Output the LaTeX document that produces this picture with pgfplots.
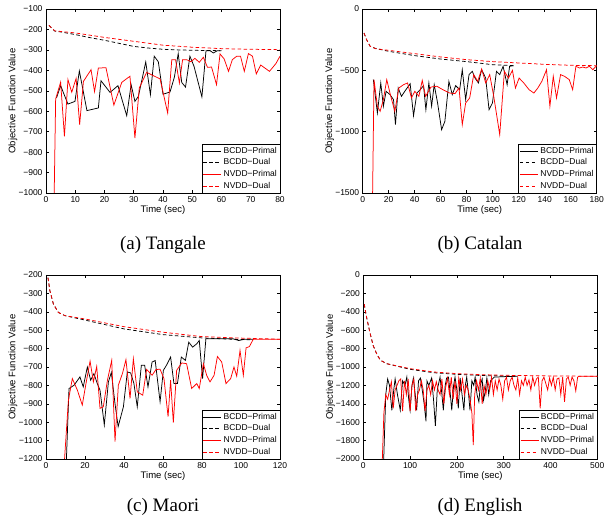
\documentclass[border=0pt]{standalone}
\usepackage{fontspec}
\setmainfont{Liberation Serif}
\newfontfamily\helv{Liberation Sans}
\usepackage{pgfplots}
\pgfplotsset{compat=1.18}

\newcommand\mtick[1]{\pgfmathparse{abs(#1)}\ifdim#1pt<0pt −\fi\pgfmathprintnumber[fixed,precision=0,1000 sep={}]{\pgfmathresult}}

\tikzset{
  bp/.style={draw=black, solid, line width=0.75pt},
  bd/.style={draw=black, dash pattern=on 3.5pt off 2.5pt, line width=0.75pt},
  rp/.style={draw=red, solid, line width=0.75pt},
  rd/.style={draw=red, dash pattern=on 3.5pt off 2.5pt, line width=0.75pt},
}

\pgfplotsset{
  panel/.style={
    scale only axis, width=234pt, height=184pt,
    anchor=south west,
    axis line style={line width=0.8pt},
    tick align=inside, major tick length=3pt,
    tick style={black, line width=0.5pt},
    xtick pos=both, ytick pos=both,
    every tick label/.append style={font=\helv\fontsize{8.5}{10}\selectfont},
    xlabel={Time (sec)}, ylabel={Objective Function Value},
    every axis y label/.style={at={(axis description cs:-0.141,0.5)}, rotate=90, anchor=center,
                               font=\helv\fontsize{9.5}{11}\selectfont},
    every axis x label/.style={at={(axis description cs:0.5,-0.093)}, anchor=center,
                               font=\helv\fontsize{9.5}{11}\selectfont},
    yticklabel={\mtick{\tick}},
    /pgf/number format/assume math mode=true,
    /pgf/number format/1000 sep={},
    scaled ticks=false,
    legend style={at={(1,0)}, anchor=south east,
                  font=\helv\fontsize{8.5}{10}\selectfont,
                  inner sep=1pt, row sep=0pt},
    legend cell align=left,
    legend image code/.code={\draw[#1] (0pt,0pt) -- (18pt,0pt);},
  },
}

\begin{document}
\begin{tikzpicture}
\path[use as bounding box] (0,0) rectangle (606pt,517pt);

% (a) Tangale
\begin{axis}[panel, at={(46pt,324pt)},
  xmin=0, xmax=80, ymin=-1000, ymax=-100,
  xtick={0,10,...,80}, ytick={-1000,-900,...,-100}]
  \addplot[bp] coordinates {(3.6,-535) (5.0,-475) (7.5,-565) (9.9,-552) (11.4,-403) (14.0,-597) (17.9,-584) (18.8,-451) (21.9,-508) (24.6,-475) (27.6,-622) (29.1,-470) (30.4,-552) (31.6,-527) (34.1,-359) (35.7,-519) (37.0,-331) (38.4,-358) (40.0,-517) (42.4,-506) (43.9,-433) (45.2,-318) (46.4,-459) (47.7,-482) (49.2,-331) (50.6,-380) (53.3,-530) (54.7,-304) (56.1,-304) (57.2,-315) (58.6,-304) (59.5,-304)};
  \addplot[bd] coordinates {(1,-180) (3,-208) (5,-212) (10,-225) (15,-240) (20,-253) (25,-268) (30,-283) (35,-291) (40,-297) (45,-300) (50,-302) (55,-303) (60,-304)};
  \addplot[rp] coordinates {(2.7,-1100) (3.3,-540) (5.0,-458) (6.3,-723) (7.5,-445) (8.8,-507) (10.3,-439) (11.5,-666) (12.8,-454) (15.4,-397) (16.6,-504) (17.9,-389) (20.5,-387) (23.2,-570) (25.9,-459) (28.7,-429) (30.4,-731) (31.9,-486) (34.4,-410) (39.0,-442) (41.6,-609) (43.0,-348) (44.3,-348) (45.6,-462) (46.7,-348) (48.1,-348) (49.6,-358) (50.9,-341) (52.4,-361) (53.8,-336) (55.2,-385) (56.6,-384) (58.3,-470) (59.5,-320) (60.9,-344) (62.4,-405) (63.7,-348) (65.2,-331) (66.5,-331) (67.8,-405) (69.2,-318) (70.6,-331) (71.9,-418) (73.4,-374) (76.4,-405) (78.6,-367) (80,-331)};
  \addplot[rd] coordinates {(1,-180) (3,-207) (10,-217) (20,-239) (30,-258) (40,-277) (50,-287) (60,-294) (70,-297) (80,-299)};
  \legend{BCDD−Primal, BCDD−Dual, NVDD−Primal, NVDD−Dual}
\end{axis}

% (b) Catalan
\begin{axis}[panel, at={(362.7pt,324pt)},
  xmin=0, xmax=180, ymin=-1500, ymax=0,
  xtick={0,20,...,180}, ytick={-1500,-1000,-500,0}]
  \addplot[bp] coordinates {(8.2,-576) (11.3,-848) (13.9,-603) (15.9,-793) (18,-671) (21,-698) (23.7,-739) (25.2,-943) (27.3,-644) (29.8,-712) (32.9,-663) (36.5,-609) (39.1,-870) (41.7,-685) (44.2,-658) (46.8,-625) (48.6,-821) (50.9,-603) (53,-793) (55,-617) (57.6,-766) (60.7,-984) (63.2,-916) (66.3,-590) (68.9,-698) (71.5,-625) (74.6,-658) (76.6,-495) (79.2,-739) (81.8,-535) (84.3,-508) (86.4,-563) (89.0,-603) (91.5,-495) (94.6,-563) (97.2,-821) (99.8,-766) (102.9,-508) (105.4,-535) (108,-467) (111.1,-617) (113,-467) (116,-462)};
  \addplot[bd] coordinates {(1,-196) (3,-250) (5.7,-304) (10,-322) (20,-345) (40,-380) (60,-408) (80,-429) (100,-454) (116,-462)};
  \addplot[rp] coordinates {(7.5,-1600) (8.7,-576) (11.3,-793) (13.4,-834) (15.9,-739) (18.5,-576) (21.6,-712) (24.7,-834) (27.8,-644) (31.4,-617) (34.5,-603) (37.5,-725) (40.1,-671) (43.2,-712) (45.8,-582) (48.4,-712) (52.5,-636) (57.1,-630) (61.7,-658) (66.9,-685) (71.0,-690) (74.1,-644) (76.6,-943) (79.2,-766) (82.3,-725) (85.4,-535) (88.5,-590) (91.5,-489) (94.6,-603) (97.7,-535) (100.8,-712) (105.4,-1024) (109,-508) (112.1,-563) (115.2,-500) (117.5,-644) (120.3,-563) (123.9,-603) (128,-658) (131.7,-685) (134.7,-644) (137.8,-590) (141.4,-495) (144,-793) (146.6,-549) (149.1,-725) (152.2,-535) (155.3,-549) (158.9,-576) (161.5,-658) (164,-467) (166.7,-481) (169.3,-473) (171.8,-481) (174.4,-467) (177,-495) (180,-462)};
  \addplot[rd] coordinates {(1,-196) (3,-250) (5.7,-304) (10,-324) (20,-337) (40,-364) (60,-391) (80,-413) (100,-429) (120,-440) (140,-451) (160,-459) (180,-462)};
  \legend{BCDD−Primal, BCDD−Dual, NVDD−Primal, NVDD−Dual}
\end{axis}

% (c) Maori
\begin{axis}[panel, at={(46pt,58pt)},
  xmin=0, xmax=120, ymin=-1200, ymax=-200,
  xtick={0,20,...,120}, ytick={-1200,-1100,...,-200}]
  \addplot[bp] coordinates {(10.3,-1250) (11.8,-817) (14.4,-799) (17.4,-754) (19.1,-808) (21.2,-700) (22.9,-772) (24.6,-736) (26.3,-790) (27.7,-826) (29.9,-1015) (32,-781) (33.5,-730) (35.4,-900) (37,-1024) (39.7,-916) (41.7,-727) (43.4,-732) (45.1,-790) (46.8,-916) (48.9,-691) (50.6,-691) (52.3,-808) (54.4,-673) (56,-665) (58.5,-889) (60.2,-718) (61.8,-690) (63.9,-646) (65.6,-790) (67.4,-790) (69.4,-646) (71.5,-664) (73.2,-565) (75.2,-592) (77.3,-574) (78.6,-556) (80.3,-763) (82,-547) (96,-547) (98.8,-556) (102,-549) (106.3,-549)};
  \addplot[bd] coordinates {(1,-214) (2,-286) (3.8,-358) (6.3,-403) (9.7,-421) (20,-445) (40,-493) (60,-524) (80,-542) (100,-551) (106,-552)};
  \addplot[rp] coordinates {(9.2,-1250) (11.5,-880) (13.5,-763) (16.1,-826) (18.6,-907) (20.5,-790) (22.6,-668) (24.3,-781) (26,-697) (27.7,-925) (29.4,-916) (31.5,-772) (33.7,-664) (35.4,-1105) (37.1,-799) (39.3,-732) (41,-660) (43.1,-871) (44.8,-655) (46.8,-835) (49.6,-853) (51.6,-713) (54.4,-745) (56.4,-714) (58.5,-712) (60.5,-763) (62.6,-970) (63.9,-772) (65.3,-1002) (67,-718) (69.6,-678) (72.1,-682) (74.7,-817) (77.3,-790) (78.6,-817) (80.7,-682) (82.4,-745) (84.1,-781) (86.2,-745) (87.9,-643) (90.1,-673) (92.3,-790) (94.7,-763) (96.4,-700) (97.8,-750) (99.5,-610) (101.2,-745) (102.6,-596) (104.3,-589) (106.3,-549) (120,-549)};
  \addplot[rd] coordinates {(1,-214) (2,-286) (3.8,-358) (6.3,-403) (9.7,-421) (20,-439) (40,-481) (60,-511) (80,-535) (100,-543) (120,-549)};
  \legend{BCDD−Primal, BCDD−Dual, NVDD−Primal, NVDD−Dual}
\end{axis}

% (d) English
\begin{axis}[panel, at={(363.3pt,58pt)},
  xmin=0, xmax=500, ymin=-2000, ymax=0,
  xtick={0,100,...,500}, ytick={-2000,-1800,...,0}]
  \addplot[bp] coordinates {(43,-2100) (48,-1300) (52,-1130) (56,-1200) (61,-1470) (65,-1250) (68,-1130) (73,-1300) (79,-1470) (84,-1150) (89,-1200) (93,-1110) (97,-1350) (100,-1470) (104,-1200) (107,-1120) (111,-1300) (114,-1470) (118,-1150) (122,-1120) (126,-1250) (130,-1400) (134,-1590) (136,-1150) (140,-1200) (146,-1120) (150,-1350) (154,-1640) (158,-1250) (164,-1110) (168,-1300) (171,-1470) (175,-1200) (178,-1120) (182,-1110) (186,-1300) (189,-1470) (193,-1200) (196,-1110) (200,-1250) (203,-1450) (207,-1120) (211,-1300) (215,-1470) (218,-1200) (221,-1110) (225,-1300) (228,-1470) (232,-1150) (236,-1200) (239,-1110) (243,-1300) (247,-1380) (250,-1200) (254,-1130) (257,-1360) (261,-1250) (264,-1120) (268,-1300) (272,-1150) (280,-1110) (300,-1105) (330,-1100)};
  \addplot[bd] coordinates {(2,-317) (7,-460) (14,-622) (21,-766) (30,-874) (37,-928) (50,-964) (100,-1025) (150,-1062) (200,-1080) (250,-1092) (300,-1098) (330,-1100)};
  \addplot[rp] coordinates {(40,-2100) (44,-1500) (48,-1300) (52,-1350) (56,-1250) (60,-1160) (64,-1450) (68,-1250) (72,-1200) (76,-1150) (80,-1130) (84,-1480) (88,-1150) (92,-1300) (96,-1130) (100,-1480) (104,-1200) (108,-1130) (112,-1480) (116,-1300) (120,-1250) (124,-1150) (128,-1250) (132,-1480) (136,-1250) (140,-1200) (144,-1300) (148,-1150) (152,-1250) (156,-1160) (160,-1250) (164,-1300) (168,-1130) (172,-1400) (176,-1220) (180,-1120) (184,-1300) (188,-1110) (192,-1350) (196,-1150) (200,-1400) (204,-1120) (208,-1250) (212,-1130) (216,-1300) (220,-1200) (224,-1250) (228,-1350) (232,-1500) (235,-1850) (238,-1300) (242,-1150) (246,-1250) (250,-1120) (254,-1400) (258,-1200) (262,-1300) (266,-1150) (270,-1250) (274,-1110) (278,-1300) (282,-1150) (286,-1250) (290,-1130) (294,-1200) (298,-1350) (302,-1150) (306,-1110) (310,-1250) (314,-1150) (318,-1110) (322,-1200) (326,-1250) (330,-1120) (334,-1300) (338,-1150) (342,-1200) (346,-1110) (350,-1200) (354,-1140) (358,-1250) (362,-1110) (366,-1200) (370,-1130) (374,-1110) (378,-1450) (382,-1150) (386,-1110) (390,-1180) (394,-1250) (398,-1120) (402,-1200) (406,-1110) (410,-1250) (414,-1130) (418,-1120) (422,-1300) (426,-1110) (430,-1380) (434,-1130) (438,-1110) (442,-1200) (446,-1110) (450,-1150) (454,-1260) (458,-1110) (462,-1100) (500,-1100)};
  \addplot[rd] coordinates {(2,-317) (7,-460) (14,-622) (21,-766) (30,-874) (37,-928) (50,-964) (100,-1018) (150,-1054) (200,-1072) (250,-1083) (300,-1090) (400,-1097) (500,-1101)};
  \legend{BCDD−Primal, BCDD−Dual, NVDD−Primal, NVDD−Dual}
\end{axis}

\node[anchor=base, font=\fontsize{19}{22}\selectfont] at (163pt,267pt) {(a) Tangale};
\node[anchor=base, font=\fontsize{19}{22}\selectfont] at (480pt,267pt) {(b) Catalan};
\node[anchor=base, font=\fontsize{19}{22}\selectfont] at (163pt,5pt) {(c) Maori};
\node[anchor=base, font=\fontsize{19}{22}\selectfont] at (480pt,5pt) {(d) English};
\end{tikzpicture}
\end{document}
